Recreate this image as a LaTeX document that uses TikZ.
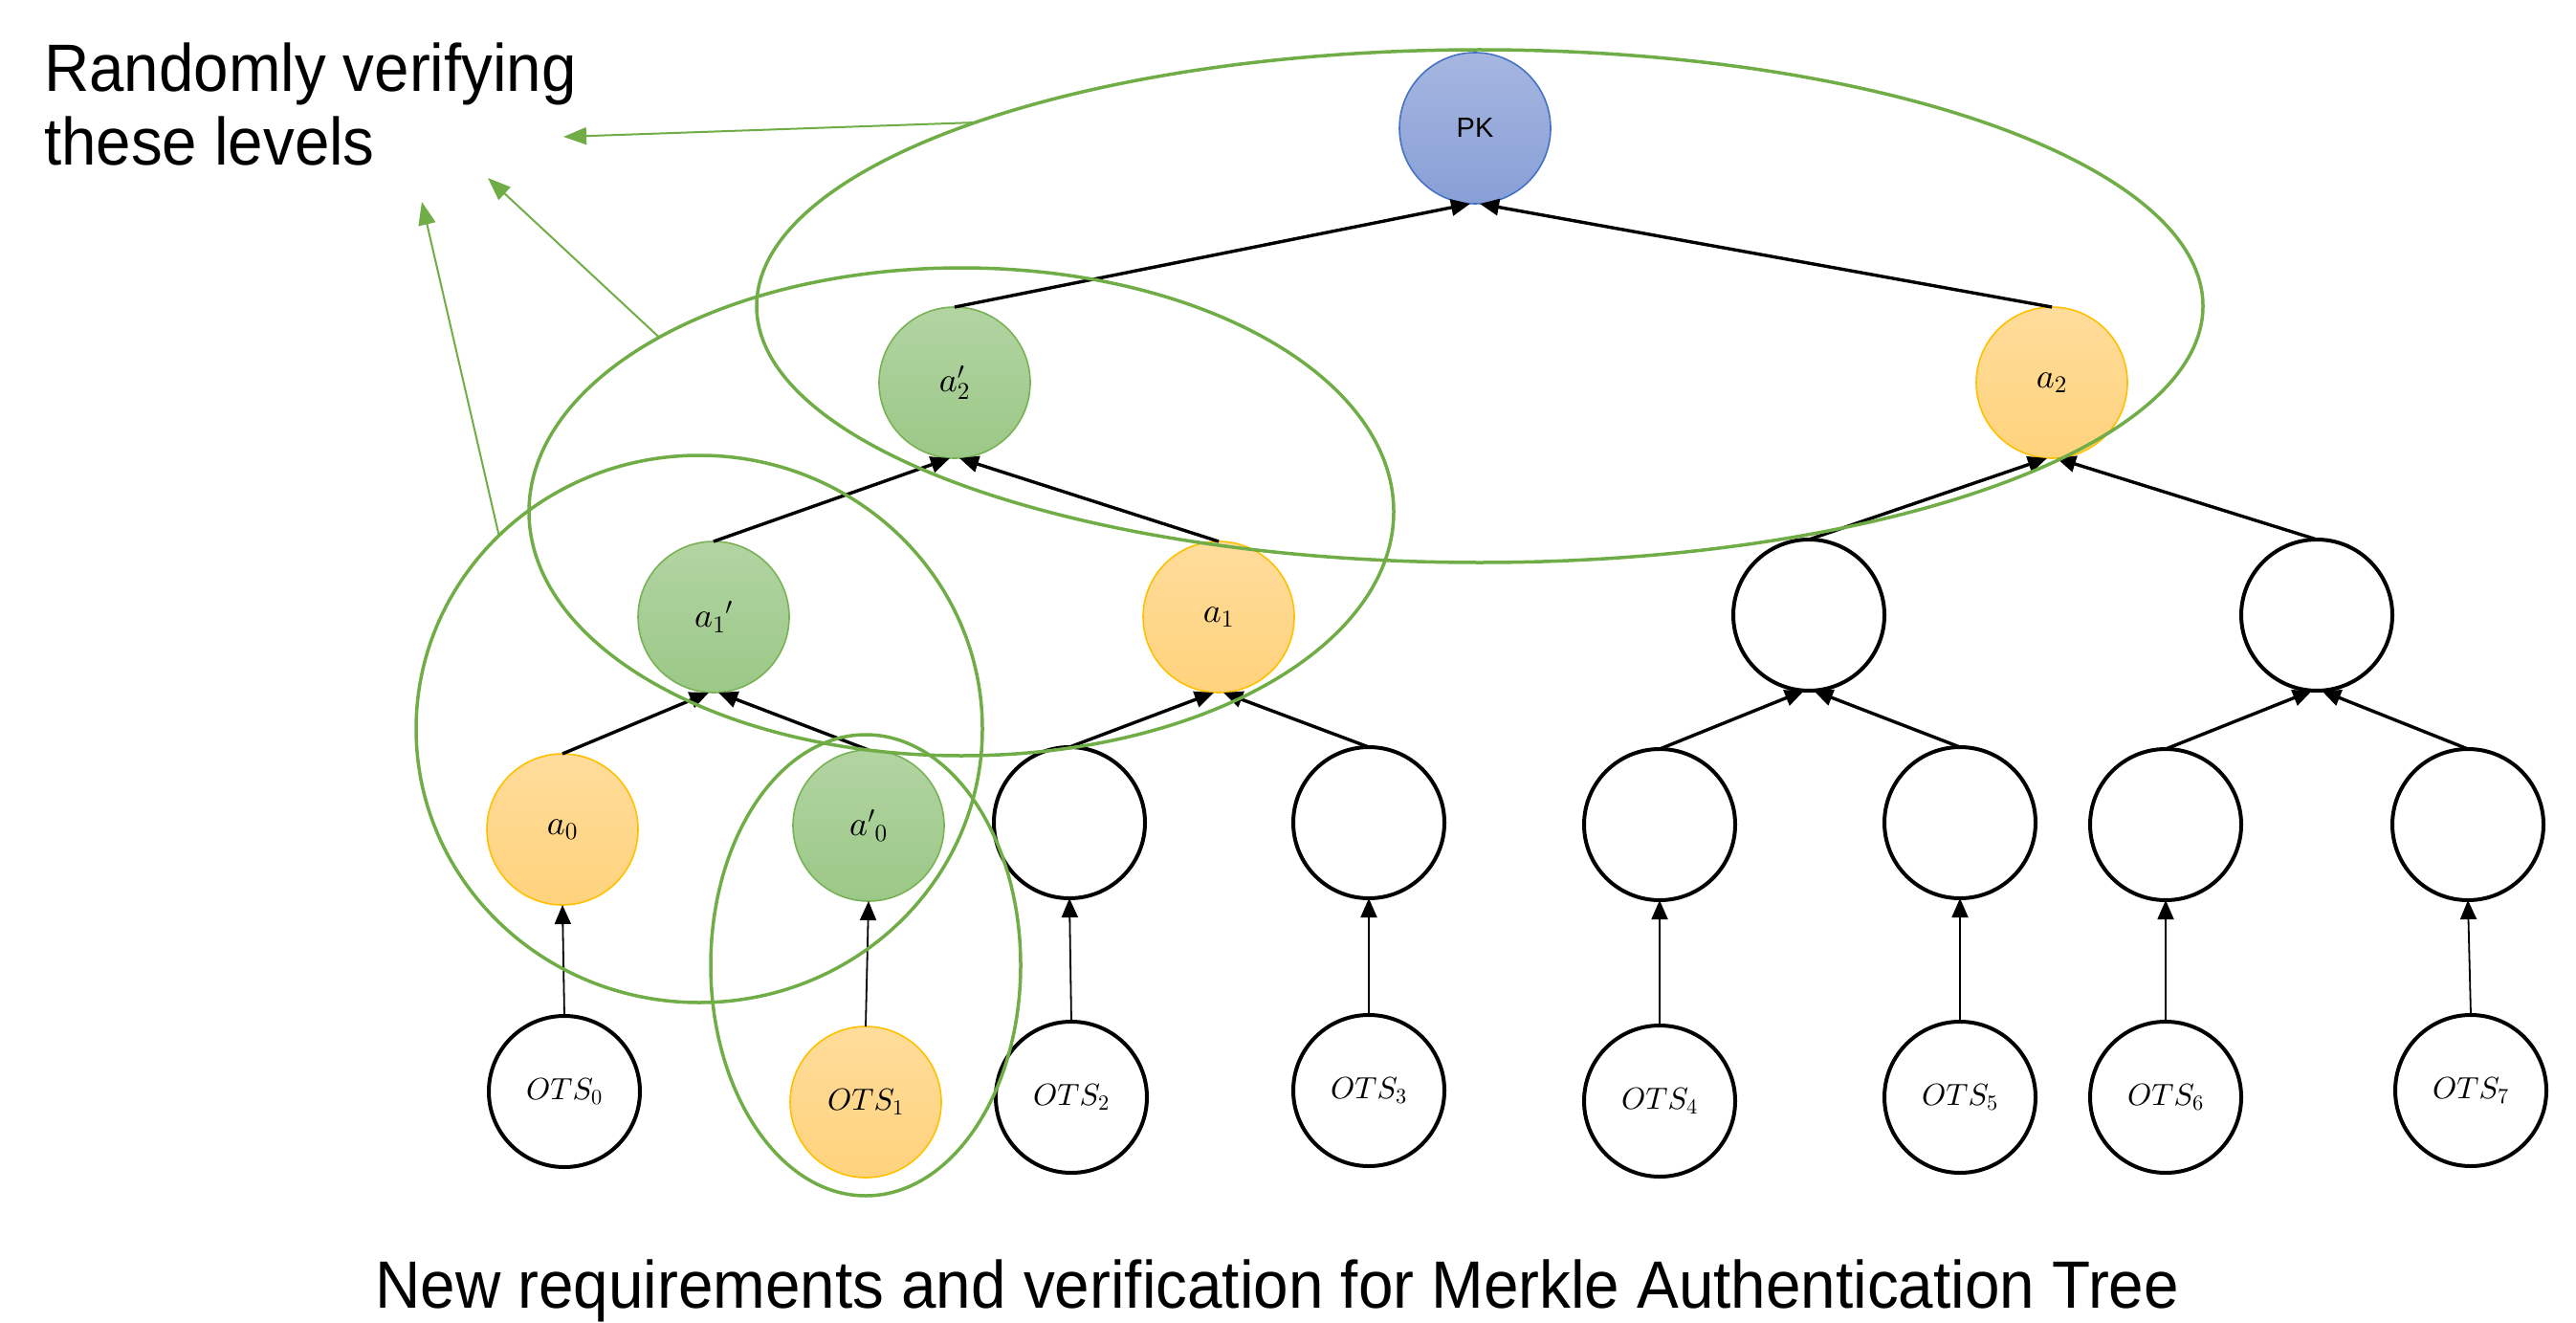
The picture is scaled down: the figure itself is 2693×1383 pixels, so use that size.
\documentclass[tikz,border=0pt]{standalone}
\usepackage{fontspec}
\DeclareFontShape{OML}{cmm}{m}{it}{<->cmmi10}{}
\DeclareFontShape{OT1}{cmr}{m}{n}{<->cmr10}{}
\DeclareFontShape{OMS}{cmsy}{m}{n}{<->cmsy10}{}
\newfontfamily\arialf{Liberation Sans}
\usetikzlibrary{arrows.meta,shapes.geometric}
\definecolor{grn}{RGB}{112,173,71}
\definecolor{grtop}{RGB}{178,212,162}
\definecolor{grbot}{RGB}{155,200,135}
\definecolor{grbd}{RGB}{120,178,85}
\definecolor{ortop}{RGB}{255,220,155}
\definecolor{orbot}{RGB}{255,211,125}
\definecolor{orbd}{RGB}{255,192,0}
\definecolor{bltop}{RGB}{166,182,224}
\definecolor{blbot}{RGB}{136,159,214}
\definecolor{blbd}{RGB}{68,114,196}
\tikzset{
  tn/.style={circle, minimum size=158pt, inner sep=0pt, outer sep=0pt, font=\fontsize{36}{42}\selectfont},
  blk/.style={tn, draw=black, line width=4pt, fill=white},
  grnode/.style={tn, draw=grbd, line width=1.6pt, top color=grtop, bottom color=grbot},
  ornode/.style={tn, draw=orbd, line width=1.6pt, top color=ortop, bottom color=orbot},
  pknode/.style={tn, draw=blbd, line width=1.6pt, top color=bltop, bottom color=blbot},
  otsfont/.style={font=\fontsize{32}{38}\selectfont},
  link/.style={line width=3.4pt, -{Triangle[length=20pt,width=17pt]}},
  vlink/.style={line width=1.8pt, -{Triangle[length=20pt,width=17pt]}},
  grring/.style={ellipse, draw=grn, line width=3.5pt, inner sep=0pt, outer sep=0pt},
  garrow/.style={draw=grn, line width=2pt, -{Triangle[length=24pt,width=18pt,fill=grn]}},
  lbl/.style={anchor=base west, inner sep=0pt, font=\arialf\fontsize{70}{84}\selectfont}
}
\begin{document}
\begin{tikzpicture}[x=1pt,y=-1pt]
\useasboundingbox (0,0) rectangle (2693,1383);
% tree nodes
\node[pknode] (pk) at (1542,134) {\arialf\fontsize{29}{33}\selectfont PK};
\node[grnode] (a2p) at (998,400) {$a_2'$};
\node[ornode] (a2) at (2145,400) {$a_2$};
\node[grnode] (a1p) at (746,645) {$a_1{}'$};
\node[ornode] (a1) at (1274,645) {$a_1$};
\node[blk] (r1) at (1891,643) {};
\node[blk] (r2) at (2422,643) {};
\node[ornode] (a0) at (588,867) {$a_0$};
\node[grnode] (a0p) at (908,863) {${a'}_0$};
\node[blk] (n2) at (1118,860) {};
\node[blk] (n3) at (1431,860) {};
\node[blk] (n4) at (1735,862) {};
\node[blk] (n5) at (2049,860) {};
\node[blk] (n6) at (2264,862) {};
\node[blk] (n7) at (2580,862) {};
\node[blk, otsfont] (o0) at (590,1141) {$OTS_0$};
\node[ornode, otsfont] (o1) at (905,1152) {$OTS_1$};
\node[blk, otsfont] (o2) at (1120,1147) {$OTS_2$};
\node[blk, otsfont] (o3) at (1431,1140) {$OTS_3$};
\node[blk, otsfont] (o4) at (1735,1151) {$OTS_4$};
\node[blk, otsfont] (o5) at (2049,1147) {$OTS_5$};
\node[blk, otsfont] (o6) at (2264,1147) {$OTS_6$};
\node[blk, otsfont] (o7) at (2583,1140) {$OTS_7$};
% diagonal links
\draw[link] (a2p.north) -- ([xshift=-5pt]pk.south);
\draw[link] (a2.north) -- ([xshift=5pt]pk.south);
\draw[link] (a1p.north) -- ([xshift=-5pt]a2p.south);
\draw[link] (a1.north) -- ([xshift=5pt]a2p.south);
\draw[link] (r1.north) -- ([xshift=-5pt]a2.south);
\draw[link] (r2.north) -- ([xshift=5pt]a2.south);
\draw[link] (a0.north) -- ([xshift=-5pt]a1p.south);
\draw[link] (a0p.north) -- ([xshift=5pt]a1p.south);
\draw[link] (n2.north) -- ([xshift=-5pt]a1.south);
\draw[link] (n3.north) -- ([xshift=5pt]a1.south);
\draw[link] (n4.north) -- ([xshift=-5pt]r1.south);
\draw[link] (n5.north) -- ([xshift=5pt]r1.south);
\draw[link] (n6.north) -- ([xshift=-5pt]r2.south);
\draw[link] (n7.north) -- ([xshift=5pt]r2.south);
% vertical links
\draw[vlink] (o0.north) -- (a0.south);
\draw[vlink] (o1.north) -- (a0p.south);
\draw[vlink] (o2.north) -- (n2.south);
\draw[vlink] (o3.north) -- (n3.south);
\draw[vlink] (o4.north) -- (n4.south);
\draw[vlink] (o5.north) -- (n5.south);
\draw[vlink] (o6.north) -- (n6.south);
\draw[vlink] (o7.north) -- (n7.south);
% green rings
\node[grring, minimum width=1512pt, minimum height=536pt] (e1) at (1547,320) {};
\node[grring, minimum width=904pt, minimum height=510pt] (e2) at (1005,535) {};
\node[grring, minimum width=592pt, minimum height=572pt] (e3) at (731,762) {};
\node[grring, minimum width=324pt, minimum height=482pt] (e4) at (905,1009) {};
% labels
\node[lbl] (t1) at (46,96) {\scalebox{0.935}[1]{Randomly verifying}};
\node[lbl] (t2) at (46,173) {\scalebox{0.935}[1]{these levels}};
\node[lbl] (cap) at (392,1367) {\scalebox{0.937}[1]{New requirements and verification for Merkle Authentication Tree}};
% green arrows
\coordinate (g1) at (589,143);
\coordinate (g2) at (510,186);
\coordinate (g3) at (441,211);
\draw[garrow] (e1.160.8) -- (g1);
\draw[garrow] (e2.150.8) -- (g2);
\draw[garrow] (e3.136.5) -- (g3);
\end{tikzpicture}
\end{document}
